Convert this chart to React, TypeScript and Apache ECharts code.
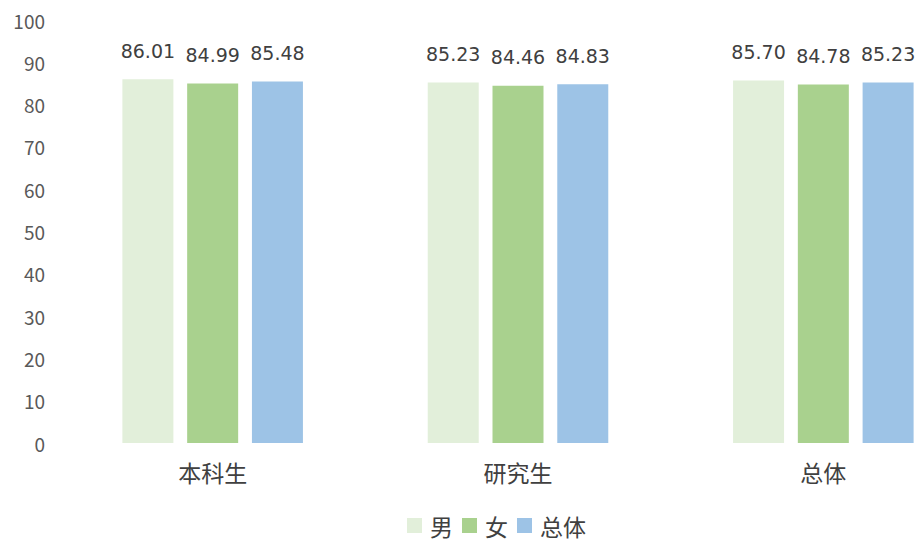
import React, { useEffect, useRef } from "react";
import * as echarts from "echarts";

const categories = ["本科生", "研究生", "总体"];
const seriesNames = ["男", "女", "总体"];
const maleValues = [86.01, 85.23, 85.7];
const femaleValues = [84.99, 84.46, 84.78];
const totalValues = [85.48, 84.83, 85.23];
const colors = ["#E2EFDA", "#A9D18E", "#9DC3E6"];

export default function App() {
  const ref = useRef<HTMLDivElement>(null);
  useEffect(() => {
    document.body.style.margin = "0";
    document.body.style.overflow = "hidden";
    document.documentElement.style.overflow = "hidden";
    const chart = echarts.init(ref.current!, null, { renderer: "svg" });
    const font = "'Noto Sans CJK SC', 'Noto Sans', sans-serif";
    const data = [maleValues, femaleValues, totalValues];
    chart.setOption({
      animation: false,
      grid: { left: 60, top: 20, bottom: 99, right: 0 },
      legend: {
        top: 509,
        left: 402,
        icon: "rect",
        itemWidth: 15,
        itemHeight: 15,
        itemGap: 9,
        textStyle: { fontSize: 23, color: "#404040", fontFamily: font, padding: [0, 0, 0, 3] },
        data: seriesNames,
      },
      xAxis: {
        type: "category",
        data: categories,
        axisLine: { show: false },
        axisTick: { show: false },
        axisLabel: { fontSize: 23, color: "#404040", margin: 17, fontFamily: font },
      },
      yAxis: {
        type: "value",
        min: 0,
        max: 100,
        interval: 10,
        splitLine: { show: false },
        axisLine: { show: false },
        axisTick: { show: false },
        axisLabel: { fontSize: 19, color: "#595959", margin: 15, fontFamily: font },
      },
      series: seriesNames.map((name, i) => ({
        name,
        type: "bar",
        data: data[i],
        barWidth: 51,
        barGap: "27%",
        itemStyle: { color: colors[i] },
        label: {
          show: true,
          position: "top",
          distance: 19,
          fontSize: 19,
          color: "#404040",
          fontFamily: "'DejaVu Sans', sans-serif",
          formatter: (p: any) => p.value.toFixed(2),
        },
      })),
    });
    return () => chart.dispose();
  }, []);
  return <div ref={ref} style={{ width: 976, height: 542 }} />;
}
